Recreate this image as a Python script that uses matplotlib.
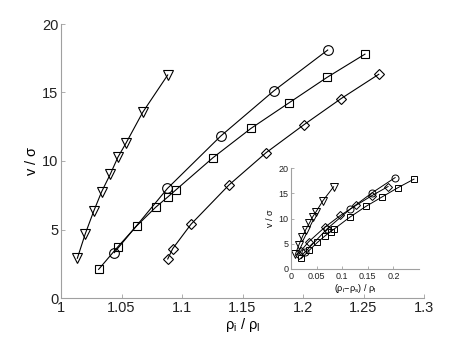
import matplotlib
matplotlib.use("Agg")
import matplotlib.pyplot as plt
import numpy as np

plt.rcParams['font.family'] = ['Liberation Sans', 'DejaVu Sans']
plt.rcParams['mathtext.fontset'] = 'custom'
plt.rcParams['mathtext.rm'] = 'Liberation Sans'
plt.rcParams['mathtext.it'] = 'Liberation Sans'

# data: rho_i / rho_l and v / sigma
tri_x = [1.0135, 1.020, 1.027, 1.0336, 1.0408, 1.0471, 1.0537, 1.0675, 1.0882]
tri_y = [2.9, 4.67, 6.33, 7.76, 9.05, 10.29, 11.3, 13.55, 16.28]
circ_x = [1.044, 1.088, 1.132, 1.176, 1.2204]
circ_y = [3.31, 8.0, 11.82, 15.13, 18.1]
sq_x = [1.0311, 1.0471, 1.0625, 1.0782, 1.0882, 1.0948, 1.1256, 1.157, 1.1887, 1.2198, 1.2512]
sq_y = [2.09, 3.75, 5.26, 6.62, 7.37, 7.88, 10.24, 12.38, 14.26, 16.1, 17.8]
dia_x = [1.0882, 1.0923, 1.1074, 1.1388, 1.1694, 1.2008, 1.2314, 1.2626]
dia_y = [2.85, 3.6, 5.38, 8.25, 10.6, 12.65, 14.55, 16.33]
# rho_s / rho_l for each series (used for inset abscissa)
rho_s = {'tri': 1.005, 'circ': 1.017, 'sq': 1.011, 'dia': 1.073}

main_ticks_x = [1, 1.05, 1.1, 1.15, 1.2, 1.25, 1.3]
main_ticks_y = [0, 5, 10, 15, 20]
inset_ticks_x = [0, 0.05, 0.1, 0.15, 0.2]
inset_ticks_y = [0, 5, 10, 15, 20]

series = [
    ('tri', tri_x, tri_y, 'v', 7.5),
    ('circ', circ_x, circ_y, 'o', 7.0),
    ('sq', sq_x, sq_y, 's', 6.0),
    ('dia', dia_x, dia_y, 'D', 5.5),
]

fig = plt.figure(figsize=(4.69, 3.37), dpi=100)
ax = fig.add_axes([61/469, 1-298/337, 363/469, 274/337])
axc = '#a0a0a0'

def style(a, fs, tl):
    for s in ['top', 'right']:
        a.spines[s].set_visible(False)
    for s in ['left', 'bottom']:
        a.spines[s].set_color(axc)
        a.spines[s].set_linewidth(0.8)
    a.tick_params(direction='in', length=tl, width=0.6, color=axc, labelsize=fs, labelcolor='#222222', pad=2)
    a.patch.set_alpha(0)

for key, x, y, m, ms in series:
    ax.plot(x, y, '-', color='black', lw=0.8, marker=m, ms=ms, mfc='none', mec='black', mew=0.8)
ax.set_xlim(1, 1.3)
ax.set_ylim(0, 20)
ax.set_xticks(main_ticks_x)
ax.set_xticklabels(['1', '1.05', '1.1', '1.15', '1.2', '1.25', '1.3'])
ax.set_yticks(main_ticks_y)
style(ax, 10.5, 3)
ax.set_xlabel(r'$\rho_{\rm i}$ / $\rho_{\rm l}$', fontsize=10.5, labelpad=1)
ax.set_ylabel(r'v / $\sigma$', fontsize=10.5, labelpad=2)

ins = fig.add_axes([291/469, 1-269/337, 128/469, 101/337])
for key, x, y, m, ms in series:
    xi = np.array(x) - rho_s[key]
    ins.plot(xi, y, '-', color='black', lw=0.7, marker=m, ms=ms*0.72, mfc='none', mec='black', mew=0.7)
ins.set_xlim(0, 0.25)
ins.set_ylim(0, 20)
ins.set_xticks(inset_ticks_x)
ins.set_xticklabels(['0', '0.05', '0.1', '0.15', '0.2'])
ins.set_yticks(inset_ticks_y)
style(ins, 6.5, 2)
ins.set_xlabel(r'($\rho_{\rm i}$$-$$\rho_{\rm s}$) / $\rho_{\rm l}$', fontsize=6.5, labelpad=1)
ins.set_ylabel(r'v / $\sigma$', fontsize=6.5, labelpad=2)

fig.savefig('out.png', dpi=100)
